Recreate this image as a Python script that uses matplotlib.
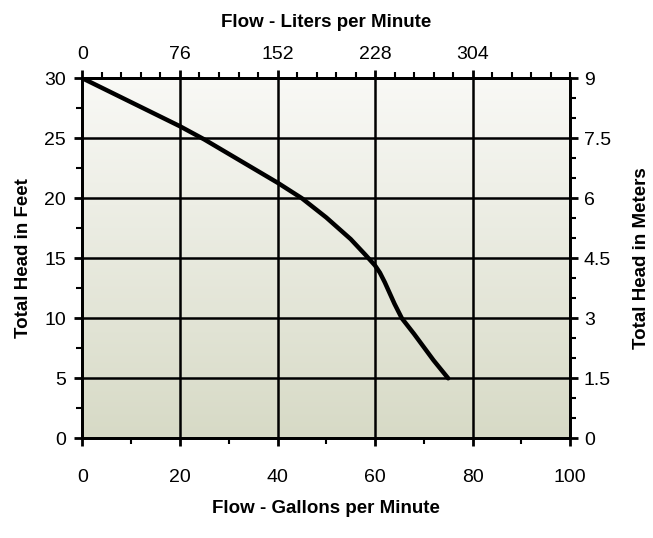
import numpy as np
import matplotlib
matplotlib.use('Agg')
import matplotlib.pyplot as plt
from matplotlib.ticker import MultipleLocator, FixedLocator

# pump curve
gpm = [0, 10, 20, 25, 30, 35, 40, 45, 50, 55, 58, 60, 61, 62, 63, 64, 65.5, 68, 70, 72, 75]
feet = [30, 28.0, 26.0, 24.9, 23.7, 22.5, 21.3, 20.0, 18.4, 16.6, 15.3, 14.4, 13.8, 13.0, 12.1, 11.2, 10.0, 8.7, 7.6, 6.5, 5.0]

gpm_ticks = [0, 20, 40, 60, 80, 100]
lpm_labels = ['0', '76', '152', '228', '304']
m_ticks = [0, 1.5, 3, 4.5, 6, 7.5, 9]
m_labels = ['0', '1.5', '3', '4.5', '6', '7.5', '9']

plt.rcParams['font.family'] = 'Liberation Sans'

fig = plt.figure(figsize=(6.53, 5.38), dpi=100)
ax = fig.add_axes([0.1263, 0.1853, 0.7467, 0.6692])

# background gradient, near white at top to pale olive at bottom
top = np.array([249, 249, 246]) / 255
bot = np.array([215, 218, 198]) / 255
t = np.linspace(0, 1, 256)[:, None]
grad = (top * (1 - t) + bot * t)[:, None, :]
ax.imshow(grad, extent=[0, 100, 0, 30], aspect='auto', zorder=0, interpolation='bicubic')

ax.set_xlim(0, 100)
ax.set_ylim(0, 30)

for x in [20, 40, 60, 80]:
    ax.axvline(x, color='black', lw=1.8, zorder=1)
for y in [5, 10, 15, 20, 25]:
    ax.axhline(y, color='black', lw=1.8, zorder=1)

ax.plot(gpm, feet, color='black', lw=3.2, solid_capstyle='round', solid_joinstyle='round', zorder=3)

for s in ax.spines.values():
    s.set_linewidth(2)

ax.xaxis.set_major_locator(FixedLocator(gpm_ticks))
ax.xaxis.set_minor_locator(MultipleLocator(10))
ax.yaxis.set_major_locator(MultipleLocator(5))
ax.yaxis.set_minor_locator(MultipleLocator(2.5))
ax.tick_params(which='major', length=6, width=2, labelsize=14)
ax.tick_params(which='minor', length=4, width=1.5)
ax.tick_params(axis='x', pad=16)
ax.tick_params(axis='y', pad=6)
ax.set_xlabel('Flow - Gallons per Minute', fontsize=13.5, fontweight='bold', labelpad=10)
ax.set_ylabel('Total Head in Feet', fontsize=13.5, fontweight='bold', labelpad=9)

# top axis: liters per minute
top_ax = ax.secondary_xaxis('top')
top_ax.xaxis.set_major_locator(FixedLocator(gpm_ticks[:-1]))
top_ax.set_xticklabels(lpm_labels)
top_ax.xaxis.set_minor_locator(MultipleLocator(4))
top_ax.tick_params(which='major', length=6, width=2, labelsize=14, pad=5)
top_ax.tick_params(which='minor', length=4, width=1.5)
top_ax.spines['top'].set_linewidth(2)
top_ax.set_xlabel('Flow - Liters per Minute', fontsize=13.5, fontweight='bold', labelpad=14)

# right axis: meters
right_ax = ax.twinx()
right_ax.set_ylim(0, 9)
right_ax.yaxis.set_major_locator(FixedLocator(m_ticks))
right_ax.set_yticklabels(m_labels)
right_ax.yaxis.set_minor_locator(MultipleLocator(0.5))
right_ax.tick_params(which='major', length=6, width=2, labelsize=14, pad=4)
right_ax.tick_params(which='minor', length=4, width=1.5)
for s in right_ax.spines.values():
    s.set_linewidth(2)
right_ax.set_ylabel('Total Head in Meters', fontsize=13.5, fontweight='bold', labelpad=16)

fig.savefig('out.png', dpi=100)
